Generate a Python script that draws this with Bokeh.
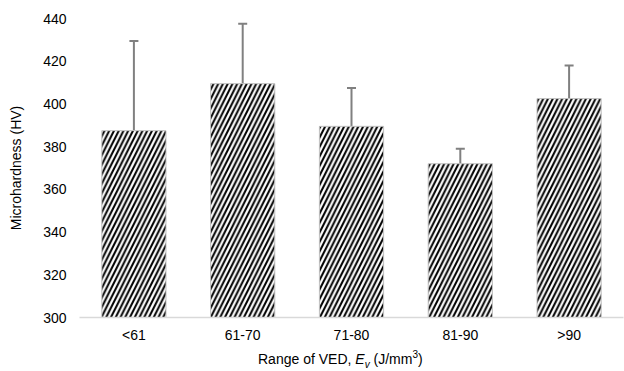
from bokeh.plotting import figure
from bokeh.models import (ColumnDataSource, Range1d, FixedTicker, Whisker,
                          TeeHead, Div)
from bokeh.layouts import column
from bokeh.embed import file_html
from bokeh.resources import INLINE

# Microhardness by range of volumetric energy density
categories = ["<61", "61-70", "71-80", "81-90", ">90"]
hardness = [387.5, 409.5, 389.5, 372.0, 402.5]
hardness_err = [42.0, 28.0, 18.0, 7.0, 15.5]
y_ticks = [300, 320, 340, 360, 380, 400, 420, 440]

FONT = "Liberation Sans"
xs = [i + 0.5 for i in range(len(categories))]
source = ColumnDataSource(dict(
    x=xs,
    top=hardness,
    upper=[h + e for h, e in zip(hardness, hardness_err)],
))

p = figure(width=624, height=351, output_backend="svg", toolbar_location=None,
           x_range=Range1d(0, len(categories)), y_range=Range1d(300, 440),
           min_border_left=79, min_border_right=1, min_border_top=18,
           min_border_bottom=34)
p.outline_line_color = None
p.grid.visible = False
p.background_fill_color = "white"
p.border_fill_color = "white"

p.vbar(x="x", top="top", bottom=300, width=0.59, source=source,
       fill_color="white", line_color="#c0c0c0", line_width=1,
       hatch_pattern="/", hatch_color="black", hatch_weight=2.0,
       hatch_scale=9.5)

err = Whisker(source=source, base="x", lower="top", upper="upper",
              line_color="#808080", line_width=2, lower_head=None,
              upper_head=TeeHead(size=9, line_color="#808080", line_width=2))
p.add_layout(err)

# x axis: category names under each bar
p.xaxis.ticker = FixedTicker(ticks=xs)
p.xaxis.major_label_overrides = {x: c for x, c in zip(xs, categories)}
p.xaxis.axis_line_color = "#d9d9d9"
p.xaxis.axis_line_width = 1.5
p.xaxis.major_tick_line_color = None
p.xaxis.minor_tick_line_color = None
p.xaxis.major_tick_out = 0
p.xaxis.minor_tick_out = 0
p.xaxis.major_label_standoff = 9
p.xaxis.major_label_text_font = FONT
p.xaxis.major_label_text_font_size = "14px"
p.xaxis.major_label_text_color = "#000000"

p.yaxis.ticker = FixedTicker(ticks=y_ticks)
p.yaxis.axis_line_color = None
p.yaxis.major_tick_line_color = None
p.yaxis.minor_tick_line_color = None
p.yaxis.major_tick_out = 0
p.yaxis.minor_tick_out = 0
p.yaxis.major_label_standoff = 13
p.yaxis.major_label_text_font = FONT
p.yaxis.major_label_text_font_size = "14px"
p.yaxis.major_label_text_color = "#000000"
p.yaxis.axis_label = "Microhardness (HV)"
p.yaxis.axis_label_text_font = FONT
p.yaxis.axis_label_text_font_size = "14px"
p.yaxis.axis_label_text_font_style = "normal"
p.yaxis.axis_label_standoff = 16
p.yaxis.axis_label_text_color = "#000000"

# x-axis title with italic E, subscript v and superscript 3
small = "font-size:10px;line-height:0"
x_title = Div(
    text=f'Range of VED, <i>E</i><sub style="{small}"><i>v</i></sub> '
         f'(J/mm<sup style="{small}">3</sup>)',
    width=624, height=20, margin=0,
    styles={"font-family": FONT, "font-size": "14px", "color": "#000000",
            "line-height": "17px", "padding-left": "258px",
            "padding-top": "2px", "position": "relative", "top": "-2px",
            "white-space": "nowrap"},
)

layout = column(p, x_title, spacing=0)
open("out.html", "w").write(file_html(layout, INLINE))
